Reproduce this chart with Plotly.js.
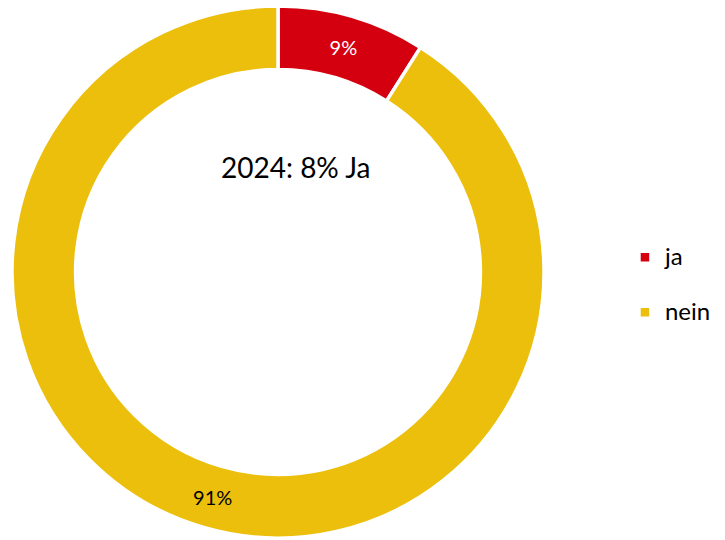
<!DOCTYPE html>
<html>
<head>
<meta charset="utf-8">
<script src="https://cdn.plot.ly/plotly-3.0.1.min.js"></script>
<style>
  html, body { margin:0; padding:0; background:#ffffff; }
  #chart { width:725px; height:540px; }
</style>
</head>
<body>
<div id="chart"></div>
<script>

/* ==========================================
   DATA
========================================== */

const labels = ["ja", "nein"];

const shares = [9, 91];

const sliceColors = ["#D5000F", "#EBBF0C"];

const textColors = ["#ffffff", "#000000"];

const centerNote = "2024: 8% Ja";


/* ==========================================
   DONUT
========================================== */

function drawDonut(){

    // blank line under each legend entry to open up the spacing
    const legendLabels = labels.map(l => "<span style='font-size:24px'>" + l + "</span><br> ");

    Plotly.newPlot(

        "chart",

        [

            {

                type:"pie",

                labels:legendLabels,

                values:shares,

                hole:0.761,

                sort:false,

                direction:"clockwise",

                rotation:0,

                texttemplate:"%{value}%",

                textposition:"inside",

                insidetextorientation:"horizontal",

                textfont:{

                    family:"Lato, sans-serif",

                    size:20,

                    color:textColors

                },

                marker:{

                    colors:sliceColors,

                    line:{

                        color:"#ffffff",

                        width:3.5

                    }

                },

                domain:{

                    x:[12/725, 544/725],

                    y:[2/532, 1]

                },

                hoverinfo:"percent"

            }

        ],

        {

            width:725,

            height:540,

            margin:{l:0, r:0, t:6, b:0},

            paper_bgcolor:"#ffffff",

            showlegend:true,

            legend:{

                x:0.862,

                y:0.566,

                xanchor:"left",

                yanchor:"top",

                valign:"top",

                font:{

                    family:"Lato, sans-serif",

                    size:20,

                    color:"#000000"

                }

            },

            annotations:[

                {

                    text:centerNote,

                    x:295/725,

                    y:(540 - 167)/534,

                    xref:"paper",

                    yref:"paper",

                    xanchor:"center",

                    yanchor:"middle",

                    showarrow:false,

                    font:{

                        family:"Lato, sans-serif",

                        size:28,

                        color:"#000000"

                    }

                }

            ]

        },

        {

            displayModeBar:false

        }

    );

}

drawDonut();
</script>
</body>
</html>
